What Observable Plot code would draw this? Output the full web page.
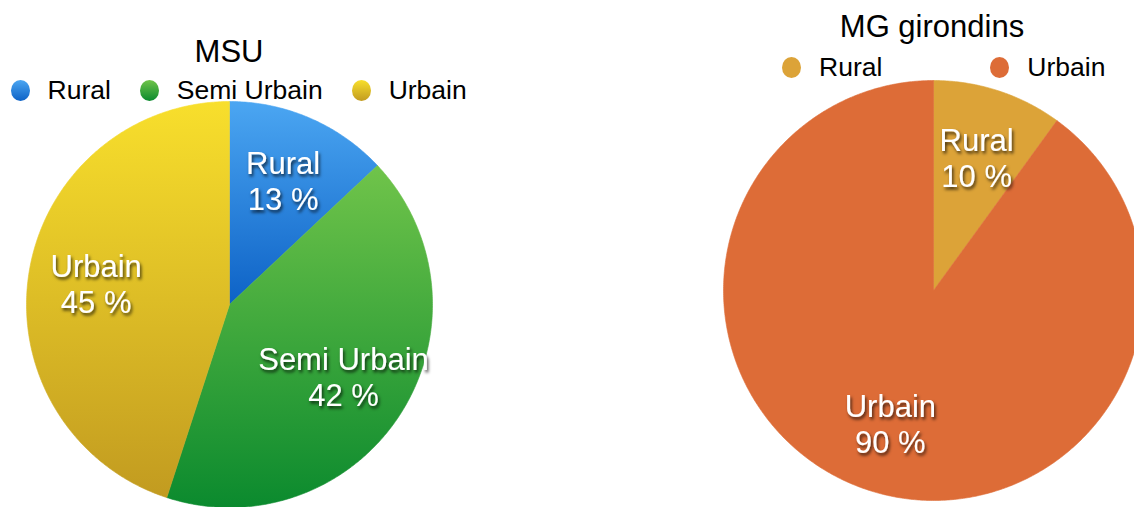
<!DOCTYPE html>
<html>
<head>
<meta charset="utf-8">
<script src="https://cdn.jsdelivr.net/npm/d3@7"></script>
<script src="https://cdn.jsdelivr.net/npm/@observablehq/plot@0.6"></script>
<style>
html, body { margin: 0; padding: 0; background: #fff; overflow: hidden; width: 1134px; height: 507px; }
#root { position: relative; width: 1134px; height: 507px; overflow: hidden; font-family: "Liberation Sans", Arial, Helvetica, sans-serif; color: #000; }
.title { position: absolute; font-size: 31px; line-height: 1; white-space: nowrap; transform: translateX(-50%); }
.legend { position: absolute; display: flex; align-items: center; font-size: 26.5px; line-height: 1; white-space: nowrap; }
.item { display: flex; align-items: center; }
.dot { width: 19px; height: 21px; border-radius: 50%; margin-right: 18px; flex: none; }
.pie { position: absolute; }
.pie svg { overflow: visible; display: block; max-width: none !important; }
</style>
</head>
<body>
<div id="root"></div>
<script>
// ---- data ----
const msuTitle = "MSU";
const msuCategories = ["Rural", "Semi Urbain", "Urbain"];
const msuValues = [13, 42, 45];
const msuTop = ["#4ba6f2", "#70c44a", "#f8df2c"];
const msuBottom = ["#0d62c6", "#0b8a2e", "#c29b20"];

const mgTitle = "MG girondins";
const mgCategories = ["Rural", "Urbain"];
const mgValues = [10, 90];
const mgTop = ["#dca338", "#dd6c37"];
const mgBottom = ["#dca338", "#dd6c37"];

// ---- helpers ----
const root = document.getElementById("root");

function makePie(id, categories, values, tops, bottoms, r) {
  const total = d3.sum(values);
  const arcs = d3.pie().sort(null).value(d => d)(values);
  const pts = [];
  arcs.forEach((a, i) => {
    const cat = categories[i];
    const n = Math.max(2, Math.ceil((a.endAngle - a.startAngle) / (Math.PI / 360)));
    pts.push({cat, x: 0, y: 0});
    for (let k = 0; k <= n; k++) {
      const t = a.startAngle + (a.endAngle - a.startAngle) * k / n;
      pts.push({cat, x: Math.sin(t), y: Math.cos(t)});
    }
    pts.push({cat, x: 0, y: 0});
  });
  const labels = arcs.map((a, i) => {
    const m = (a.startAngle + a.endAngle) / 2;
    return {
      text: `${categories[i]}\n${Math.round(values[i] / total * 100)} %`,
      x: 0.665 * Math.sin(m),
      y: 0.665 * Math.cos(m)
    };
  });
  const fills = categories.map((c, i) => `url(#${id}-g${i})`);
  const svg = Plot.plot({
    width: 2 * r,
    height: 2 * r,
    margin: 0,
    x: {domain: [-1, 1], axis: null},
    y: {domain: [-1, 1], axis: null},
    color: {domain: categories, range: fills},
    style: {background: "transparent", overflow: "visible", maxWidth: "none"},
    marks: [
      Plot.line(pts, {x: "x", y: "y", z: "cat", fill: "cat", stroke: "cat", strokeWidth: 0.6, curve: "linear"}),
      Plot.text(labels, {
        x: "x", y: "y", text: "text",
        fill: "white", fontSize: 31, lineHeight: 1.16,
        fontFamily: "Liberation Sans, Arial, sans-serif"
      })
    ]
  });
  // gradients + shadow filter
  const ns = "http://www.w3.org/2000/svg";
  const defs = document.createElementNS(ns, "defs");
  categories.forEach((c, i) => {
    const lg = document.createElementNS(ns, "linearGradient");
    lg.setAttribute("id", `${id}-g${i}`);
    lg.setAttribute("x1", "0"); lg.setAttribute("y1", "0");
    lg.setAttribute("x2", "0"); lg.setAttribute("y2", "1");
    [[0, tops[i]], [1, bottoms[i]]].forEach(([o, col]) => {
      const s = document.createElementNS(ns, "stop");
      s.setAttribute("offset", o);
      s.setAttribute("stop-color", col);
      lg.appendChild(s);
    });
    defs.appendChild(lg);
  });
  const f = document.createElementNS(ns, "filter");
  f.setAttribute("id", `${id}-shadow`);
  f.setAttribute("x", "-20%"); f.setAttribute("y", "-20%");
  f.setAttribute("width", "140%"); f.setAttribute("height", "140%");
  const ds = document.createElementNS(ns, "feDropShadow");
  ds.setAttribute("dx", "1.5"); ds.setAttribute("dy", "2.5");
  ds.setAttribute("stdDeviation", "1.6");
  ds.setAttribute("flood-color", "#000");
  ds.setAttribute("flood-opacity", "0.7");
  f.appendChild(ds);
  defs.appendChild(f);
  svg.insertBefore(defs, svg.firstChild);
  d3.select(svg).selectAll('g[aria-label="text"]').attr("filter", `url(#${id}-shadow)`);
  return svg;
}

function addPie(id, categories, values, tops, bottoms, cx, cy, r) {
  const wrap = document.createElement("div");
  wrap.className = "pie";
  wrap.style.left = (cx - r) + "px";
  wrap.style.top = (cy - r) + "px";
  wrap.style.width = (2 * r) + "px";
  wrap.style.height = (2 * r) + "px";
  wrap.appendChild(makePie(id, categories, values, tops, bottoms, r));
  root.appendChild(wrap);
}

function addTitle(text, cx, top) {
  const t = document.createElement("div");
  t.className = "title";
  t.textContent = text;
  t.style.left = cx + "px";
  t.style.top = top + "px";
  root.appendChild(t);
}

function addLegend(categories, tops, bottoms, left, top, gap) {
  const lg = document.createElement("div");
  lg.className = "legend";
  lg.style.left = left + "px";
  lg.style.top = top + "px";
  lg.style.gap = gap + "px";
  categories.forEach((c, i) => {
    const it = document.createElement("div");
    it.className = "item";
    const d = document.createElement("span");
    d.className = "dot";
    d.style.background = `linear-gradient(${tops[i]}, ${bottoms[i]})`;
    const s = document.createElement("span");
    s.textContent = c;
    it.appendChild(d);
    it.appendChild(s);
    lg.appendChild(it);
  });
  root.appendChild(lg);
}

// ---- layout ----
addPie("msu", msuCategories, msuValues, msuTop, msuBottom, 229, 304, 203);
addPie("mg", mgCategories, mgValues, mgTop, mgBottom, 933, 290, 210);
addTitle(msuTitle, 229, 36.4);
addTitle(mgTitle, 932, 11.4);
addLegend(msuCategories, msuTop, msuBottom, 10.5, 77.3, 29);
addLegend(mgCategories, mgTop, mgBottom, 782, 54.3, 108);
</script>
</body>
</html>
